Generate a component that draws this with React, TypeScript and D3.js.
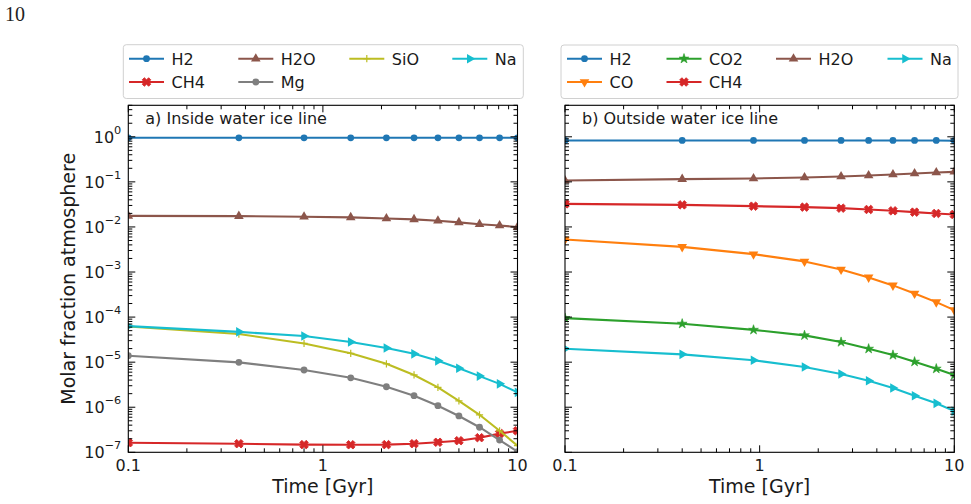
import React from "react";
import * as d3 from "d3";

// ---- data ----
const leftTimes = [0.1, 0.37, 0.8, 1.39, 2.12, 2.94, 3.9, 5.0, 6.38, 8.09, 10];
const rightTimes = [0.1, 0.4, 0.93, 1.7, 2.62, 3.63, 4.84, 6.25, 8.08, 10];

const leftH2 = [0.95, 0.95, 0.95, 0.95, 0.95, 0.95, 0.95, 0.95, 0.95, 0.95, 0.95];
const leftCH4 = [1.63e-7, 1.55e-7, 1.48e-7, 1.47e-7, 1.48e-7, 1.55e-7, 1.67e-7, 1.81e-7, 2.11e-7, 2.6e-7, 3.0e-7];
const leftH2O = [0.0176, 0.0174, 0.0168, 0.0163, 0.0154, 0.0147, 0.0137, 0.0126, 0.0115, 0.0108, 0.0099];
const leftMg = [1.39e-5, 9.9e-6, 6.7e-6, 4.5e-6, 2.85e-6, 1.8e-6, 1.08e-6, 6.4e-7, 3.6e-7, 1.87e-7, 1.03e-7];
const leftSiO = [6.2e-5, 4.2e-5, 2.6e-5, 1.57e-5, 9.2e-6, 5.2e-6, 2.76e-6, 1.39e-6, 6.8e-7, 3.0e-7, 1.4e-7];
const leftNa = [6.3e-5, 4.7e-5, 3.8e-5, 2.8e-5, 2.06e-5, 1.53e-5, 1.07e-5, 7.3e-6, 4.9e-6, 3.3e-6, 2.14e-6];

const rightH2 = [0.83, 0.83, 0.83, 0.83, 0.83, 0.83, 0.83, 0.83, 0.83, 0.82];
const rightCO = [5.28e-3, 3.62e-3, 2.49e-3, 1.72e-3, 1.14e-3, 7.6e-4, 5.05e-4, 3.35e-4, 2.15e-4, 1.43e-4];
const rightCO2 = [9.5e-5, 7.1e-5, 5.2e-5, 3.93e-5, 2.79e-5, 1.98e-5, 1.44e-5, 1.02e-5, 7.15e-6, 5.18e-6];
const rightCH4 = [0.0325, 0.0309, 0.0289, 0.0275, 0.0261, 0.0244, 0.0228, 0.0213, 0.0199, 0.0189];
const rightH2O = [0.107, 0.115, 0.119, 0.125, 0.132, 0.139, 0.146, 0.153, 0.162, 0.167];
const rightNa = [1.98e-5, 1.49e-5, 1.1e-5, 7.8e-6, 5.45e-6, 3.87e-6, 2.67e-6, 1.8e-6, 1.22e-6, 8.2e-7];

const xTickValues = [0.1, 1, 10];
const xTickLabels = ["0.1", "1", "10"];
const yTickExponents = [0, -1, -2, -3, -4, -5, -6, -7];

const panelTitles = ["a) Inside water ice line", "b) Outside water ice line"];
const xAxisTitle = "Time [Gyr]";
const yAxisTitle = "Molar fraction atmosphere";

// ---- styling ----
const FONT = "DejaVu Sans, sans-serif";
const COLORS: Record<string, string> = {
  H2: "#1f77b4",
  CO: "#ff7f0e",
  CO2: "#2ca02c",
  CH4: "#d62728",
  H2O: "#8c564b",
  Mg: "#7f7f7f",
  SiO: "#bcbd22",
  Na: "#17becf",
};
const MARKERS: Record<string, string> = {
  H2: "circle",
  CO: "tri-down",
  CO2: "star",
  CH4: "xfill",
  H2O: "tri-up",
  Mg: "circle",
  SiO: "plus",
  Na: "tri-right",
};

type Series = { name: string; values: number[] };

const leftSeries: Series[] = [
  { name: "H2", values: leftH2 },
  { name: "CH4", values: leftCH4 },
  { name: "H2O", values: leftH2O },
  { name: "Mg", values: leftMg },
  { name: "SiO", values: leftSiO },
  { name: "Na", values: leftNa },
];
const rightSeries: Series[] = [
  { name: "H2", values: rightH2 },
  { name: "CO", values: rightCO },
  { name: "CO2", values: rightCO2 },
  { name: "CH4", values: rightCH4 },
  { name: "H2O", values: rightH2O },
  { name: "Na", values: rightNa },
];

const TOP = 105.3;
const BOTTOM = 452.3;

const triPath = d3.symbol(d3.symbolTriangle, 40)() as string;
const starPath = d3.symbol(d3.symbolStar, 30)() as string;
const crossPath = d3.symbol(d3.symbolCross, 46)() as string;

function Marker({ kind, x, y, color }: { kind: string; x: number; y: number; color: string }) {
  const t = `translate(${x},${y})`;
  switch (kind) {
    case "circle":
      return <circle cx={x} cy={y} r={3.4} fill={color} />;
    case "tri-up":
      return <path d={triPath} transform={t} fill={color} />;
    case "tri-down":
      return <path d={triPath} transform={`${t} rotate(180)`} fill={color} />;
    case "tri-right":
      return <path d={triPath} transform={`${t} rotate(90)`} fill={color} />;
    case "star":
      return <path d={starPath} transform={t} fill={color} stroke={color} strokeWidth={0.6} />;
    case "xfill":
      return <path d={crossPath} transform={`${t} rotate(45)`} fill={color} stroke={color} strokeWidth={0.8} strokeLinejoin="round" />;
    case "plus":
      return (
        <g transform={t} stroke={color} strokeWidth={1.2}>
          <line x1={-3.6} x2={3.6} y1={0} y2={0} />
          <line x1={0} x2={0} y1={-3.6} y2={3.6} />
        </g>
      );
    default:
      return null;
  }
}

function logTicks(lo: number, hi: number): { v: number; major: boolean }[] {
  const out: { v: number; major: boolean }[] = [];
  const e0 = Math.floor(Math.log10(lo));
  const e1 = Math.ceil(Math.log10(hi));
  for (let e = e0; e <= e1; e++) {
    for (let k = 1; k <= 9; k++) {
      const v = k * Math.pow(10, e);
      if (v >= lo * 0.9999 && v <= hi * 1.0001) out.push({ v, major: k === 1 });
    }
  }
  return out;
}

function Panel({
  x0,
  x1,
  times,
  series,
  title,
  showYLabels,
  id,
}: {
  x0: number;
  x1: number;
  times: number[];
  series: Series[];
  title: string;
  showYLabels: boolean;
  id: string;
}) {
  const xs = d3.scaleLog().domain([0.1, 10]).range([x0, x1]);
  const ys = d3.scaleLog().domain([1e-7, 5]).range([BOTTOM, TOP]);
  const line = d3
    .line<[number, number]>()
    .x((d) => xs(d[0]))
    .y((d) => ys(d[1]));

  const xt = logTicks(0.1, 10);
  const yt = logTicks(1e-7, 5);
  const MAJ = 7;
  const MIN = 4;

  return (
    <g>
      <defs>
        <clipPath id={id}>
          <rect x={x0} y={TOP} width={x1 - x0} height={BOTTOM - TOP} />
        </clipPath>
      </defs>
      <g clipPath={`url(#${id})`}>
        {series.map((s) => {
          const pts = times.map((t, i) => [t, s.values[i]] as [number, number]);
          const c = COLORS[s.name];
          return (
            <g key={s.name}>
              <path d={line(pts) as string} fill="none" stroke={c} strokeWidth={2.1} strokeLinejoin="round" />
              {pts.map((p, i) => (
                <Marker key={i} kind={MARKERS[s.name]} x={xs(p[0])} y={ys(p[1])} color={c} />
              ))}
            </g>
          );
        })}
      </g>

      {/* ticks, pointing inward on all four sides */}
      <g stroke="#000" strokeWidth={1}>
        {xt.map((t, i) => {
          const x = xs(t.v);
          const L = t.major ? MAJ : MIN;
          return (
            <g key={`x${i}`}>
              <line x1={x} x2={x} y1={BOTTOM} y2={BOTTOM - L} />
              <line x1={x} x2={x} y1={TOP} y2={TOP + L} />
            </g>
          );
        })}
        {yt.map((t, i) => {
          const y = ys(t.v);
          const L = t.major ? MAJ : MIN;
          return (
            <g key={`y${i}`}>
              <line x1={x0} x2={x0 + L} y1={y} y2={y} />
              <line x1={x1} x2={x1 - L} y1={y} y2={y} />
            </g>
          );
        })}
      </g>
      <rect x={x0} y={TOP} width={x1 - x0} height={BOTTOM - TOP} fill="none" stroke="#000" strokeWidth={1.1} />

      {/* x tick labels */}
      {xTickValues.map((v, i) => (
        <text key={v} x={xs(v)} y={470.5} textAnchor="middle" fontFamily={FONT} fontSize={16} fill="#1a1a1a">
          {xTickLabels[i]}
        </text>
      ))}

      {/* y tick labels */}
      {showYLabels &&
        yTickExponents.map((e) => (
          <text key={e} x={x0 - 7} y={ys(Math.pow(10, e)) + 5.8} textAnchor="end" fontFamily={FONT} fontSize={16} fill="#1a1a1a">
            10
            <tspan fontSize={11.3} dy={-9}>
              {e < 0 ? `\u2212${-e}` : `${e}`}
            </tspan>
          </text>
        ))}

      <text x={x0 + 17} y={124} fontFamily={FONT} fontSize={16} fill="#1a1a1a">
        {title}
      </text>
      <text x={(x0 + x1) / 2} y={493} textAnchor="middle" fontFamily={FONT} fontSize={19} fill="#1a1a1a">
        {xAxisTitle}
      </text>
    </g>
  );
}

function Legend({
  box,
  colX,
  names,
}: {
  box: [number, number, number, number];
  colX: number[];
  names: string[][];
}) {
  const rowY = [58.7, 82];
  return (
    <g>
      <rect x={box[0]} y={box[1]} width={box[2] - box[0]} height={box[3] - box[1]} rx={3} fill="#fff" fillOpacity={0.8} stroke="#d0d0d0" strokeWidth={1} />
      {names.map((col, ci) =>
        col.map((n, ri) => {
          const x = colX[ci];
          const y = rowY[ri];
          const c = COLORS[n];
          return (
            <g key={n}>
              <line x1={x} x2={x + 35} y1={y} y2={y} stroke={c} strokeWidth={2.1} />
              <Marker kind={MARKERS[n]} x={x + 17.5} y={y} color={c} />
              <text x={x + 42.5} y={y + 6} fontFamily={FONT} fontSize={16} fill="#1a1a1a">
                {n}
              </text>
            </g>
          );
        })
      )}
    </g>
  );
}

export default function App() {
  return (
    <svg
      width={971}
      height={504}
      viewBox="0 0 971 504"
      style={{ position: "absolute", left: 0, top: 0, background: "#fff" }}
    >
      <rect x={0} y={0} width={971} height={504} fill="#fff" />
      <text x={5} y={20.5} fontFamily="Liberation Serif, serif" fontSize={20} fill="#222">
        10
      </text>

      <Legend
        box={[123.3, 44.7, 523.3, 98.5]}
        colX={[129, 238.3, 349.3, 452.3]}
        names={[["H2", "CH4"], ["H2O", "Mg"], ["SiO"], ["Na"]]}
      />
      <Legend
        box={[561, 45, 958, 98.5]}
        colX={[567, 666.5, 776, 887.5]}
        names={[["H2", "CO"], ["CO2", "CH4"], ["H2O"], ["Na"]]}
      />

      <Panel x0={128.3} x1={517.5} times={leftTimes} series={leftSeries} title={panelTitles[0]} showYLabels={true} id="clipA" />
      <Panel x0={565} x1={954.3} times={rightTimes} series={rightSeries} title={panelTitles[1]} showYLabels={false} id="clipB" />

      <text
        transform={`translate(75,278.8) rotate(-90)`}
        textAnchor="middle"
        fontFamily={FONT}
        fontSize={19}
        fill="#1a1a1a"
      >
        {yAxisTitle}
      </text>
    </svg>
  );
}
